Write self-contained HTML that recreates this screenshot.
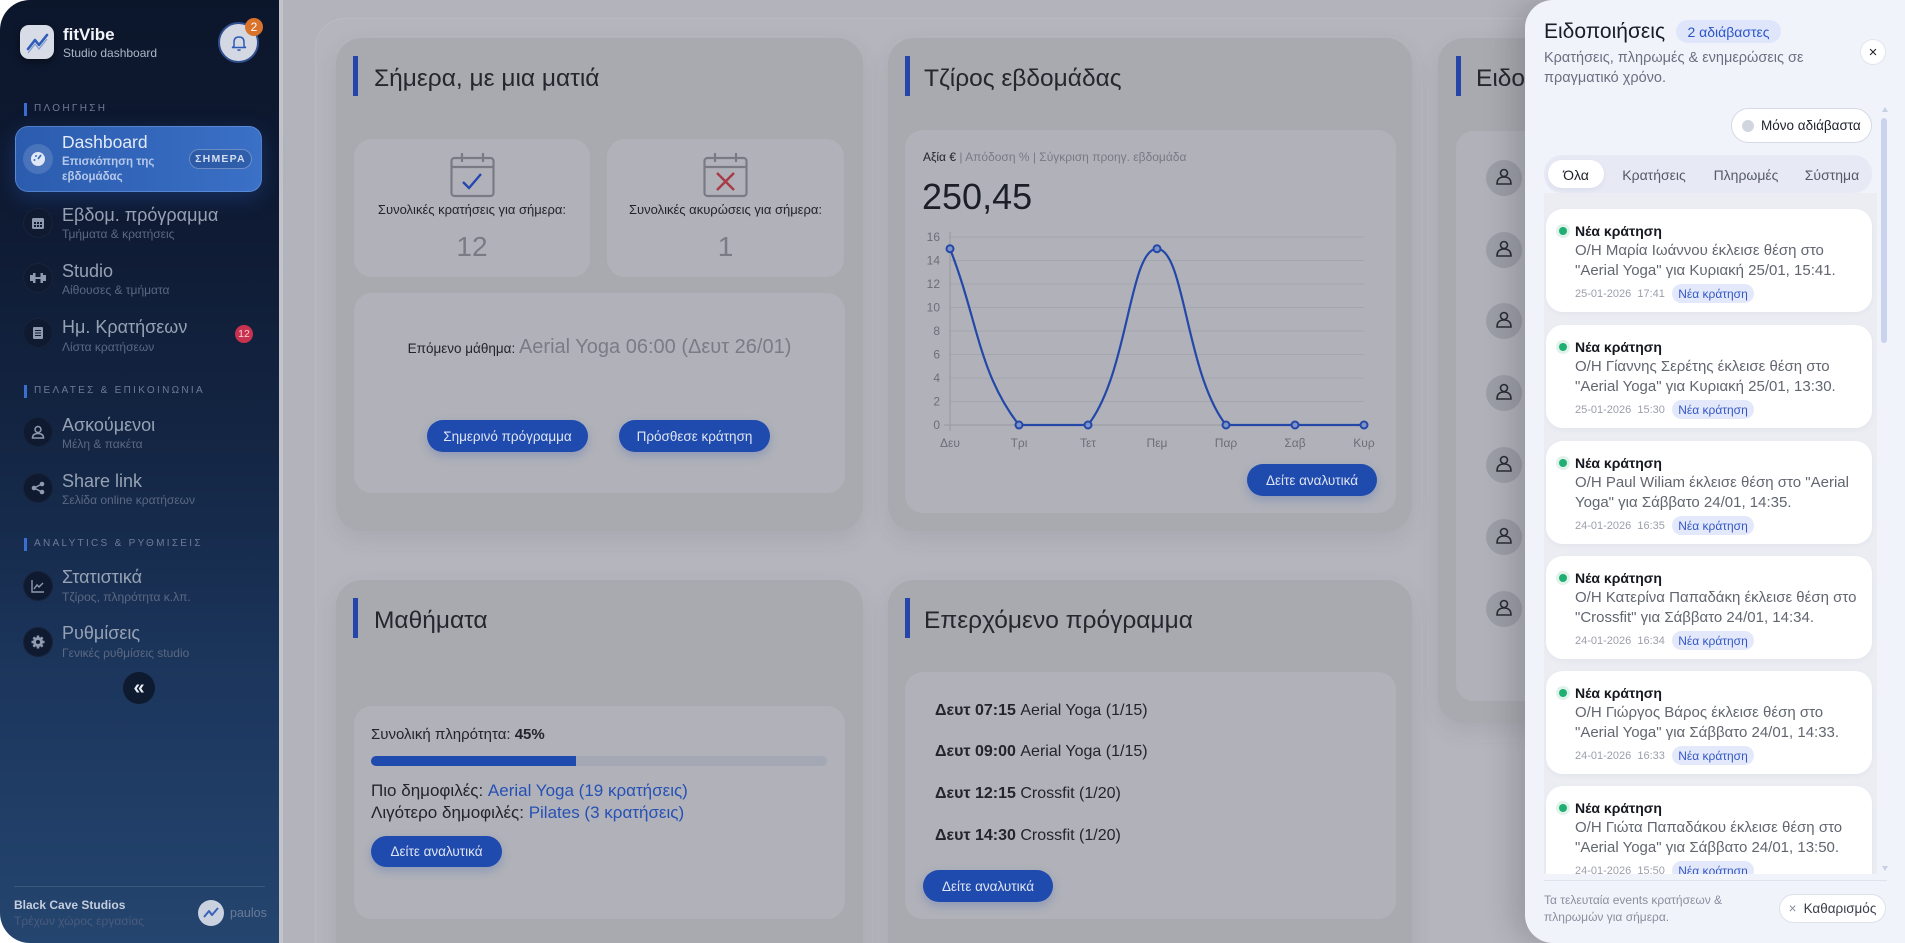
<!DOCTYPE html>
<html><head><meta charset="utf-8">
<style>
*{margin:0;padding:0;box-sizing:border-box}
html,body{width:1905px;height:943px;overflow:hidden;background:#fff;font-family:"Liberation Sans","DejaVu Sans",sans-serif}
#root{position:relative;width:1905px;height:943px;overflow:hidden;background:#fff}
.a{position:absolute;white-space:nowrap;line-height:1}
.card{position:absolute;background:#a9aab0;border-radius:26px;box-shadow:0 8px 22px rgba(60,62,70,0.10)}
.inner{position:absolute;background:#b1b2b9;border-radius:18px}
.acc{position:absolute;width:5px;height:40px;background:#2546a8}
.ttl{position:absolute;font-size:24.5px;color:#25272e;line-height:1;white-space:nowrap}
.btn{position:absolute;background:#1f4aae;color:#dfe5f2;border-radius:17px;font-size:13.5px;display:flex;align-items:center;justify-content:center;box-shadow:0 4px 10px rgba(31,74,174,0.25);white-space:nowrap}
.ic{position:absolute;width:30px;height:30px;border-radius:50%;background:#0f1a31;border:1px solid rgba(255,255,255,0.04);display:flex;align-items:center;justify-content:center}
.it{position:absolute;font-size:18px;color:#97a1b4;line-height:1;white-space:nowrap}
.is{position:absolute;font-size:12px;color:#5b6883;line-height:1;white-space:nowrap}
.sec{position:absolute;font-size:10px;letter-spacing:2.3px;color:#6d7b97;line-height:1;white-space:nowrap}
.secb{position:absolute;width:3px;height:13px;background:#3a6ed0}
.nc{position:absolute;left:2px;width:326px;height:103px;background:#fff;border-radius:17px;box-shadow:0 2px 6px rgba(30,40,80,0.04)}
.nc .dot{position:absolute;left:10px;top:15px;width:14px;height:14px;border-radius:50%;background:#e0f2ea}
.nc .dot:after{content:"";position:absolute;left:3px;top:3px;width:8px;height:8px;border-radius:50%;background:#1faf73}
.nc .t{position:absolute;left:29px;top:15px;font-size:14px;font-weight:bold;color:#16181f;line-height:1;white-space:nowrap}
.nc .b{position:absolute;left:29px;top:32px;font-size:15px;color:#62666f;line-height:20px;white-space:nowrap}
.nc .d{position:absolute;left:29px;top:80px;font-size:11px;color:#9c9fab;line-height:1;white-space:nowrap}
.nc .p{position:absolute;left:126px;top:75px;width:82px;height:19px;border-radius:10px;background:#e3e9fa;color:#3457c5;font-size:12px;display:flex;align-items:center;justify-content:center;white-space:nowrap}
</style></head><body><div id="root">

<!-- main dimmed background -->
<div class="a" style="left:279px;top:0;width:1626px;height:943px;background:#b3b4bb"></div>
<div class="a" style="left:279px;top:0;width:4px;height:943px;background:#c3c4ca"></div>
<div class="a" style="left:315px;top:18px;width:1300px;height:960px;background:#b5b6bd;border-radius:30px;border:1px solid #babbc2"></div>

<!-- Card 1 -->
<div class="card" style="left:336px;top:38px;width:527px;height:493px"></div>
<div class="acc" style="left:353px;top:56px"></div>
<div class="ttl" style="left:374px;top:67px">Σήμερα, με μια ματιά</div>
<div class="inner" style="left:354px;top:139px;width:236px;height:138px"></div>
<div class="inner" style="left:607px;top:139px;width:237px;height:138px"></div>
<svg class="a" style="left:450px;top:152px" width="46" height="46" viewBox="0 0 46 46">
<rect x="1.5" y="6" width="42" height="38" rx="3" fill="none" stroke="#797b84" stroke-width="2.2"/>
<line x1="1.5" y1="15" x2="43.5" y2="15" stroke="#797b84" stroke-width="2.2"/>
<line x1="12" y1="1" x2="12" y2="10" stroke="#797b84" stroke-width="2.2"/>
<line x1="33" y1="1" x2="33" y2="10" stroke="#797b84" stroke-width="2.2"/>
<polyline points="13,30 19,36 31,22" fill="none" stroke="#2447b0" stroke-width="2.4"/>
</svg>
<svg class="a" style="left:703px;top:152px" width="46" height="46" viewBox="0 0 46 46">
<rect x="1.5" y="6" width="42" height="38" rx="3" fill="none" stroke="#797b84" stroke-width="2.2"/>
<line x1="1.5" y1="15" x2="43.5" y2="15" stroke="#797b84" stroke-width="2.2"/>
<line x1="12" y1="1" x2="12" y2="10" stroke="#797b84" stroke-width="2.2"/>
<line x1="33" y1="1" x2="33" y2="10" stroke="#797b84" stroke-width="2.2"/>
<line x1="14" y1="21" x2="31" y2="38" stroke="#a83a44" stroke-width="2.4"/>
<line x1="31" y1="21" x2="14" y2="38" stroke="#a83a44" stroke-width="2.4"/>
</svg>
<div class="a" style="left:354px;width:236px;top:203px;text-align:center;font-size:13px;color:#23252c">Συνολικές κρατήσεις για σήμερα:</div>
<div class="a" style="left:607px;width:237px;top:203px;text-align:center;font-size:13px;color:#23252c">Συνολικές ακυρώσεις για σήμερα:</div>
<div class="a" style="left:354px;width:236px;top:233px;text-align:center;font-size:28px;color:#7a7c85">12</div>
<div class="a" style="left:607px;width:237px;top:233px;text-align:center;font-size:28px;color:#7a7c85">1</div>
<div class="inner" style="left:354px;top:293px;width:491px;height:200px"></div>
<div class="a" style="left:354px;width:491px;top:337px;text-align:center;color:#23252c;font-size:13.5px"><span>Επόμενο μάθημα:</span> <span style="font-size:20px;color:#7a7c85">Aerial Yoga 06:00 (Δευτ 26/01)</span></div>
<div class="btn" style="left:427px;top:420px;width:161px;height:32px">Σημερινό πρόγραμμα</div>
<div class="btn" style="left:619px;top:420px;width:151px;height:32px">Πρόσθεσε κράτηση</div>

<!-- Card 2 chart -->
<div class="card" style="left:888px;top:38px;width:524px;height:493px"></div>
<div class="acc" style="left:905px;top:56px"></div>
<div class="ttl" style="left:924px;top:67px">Τζίρος εβδομάδας</div>
<div class="inner" style="left:905px;top:130px;width:491px;height:383px"></div>
<div class="a" style="left:923px;top:151px;font-size:12px;color:#787a83"><span style="color:#22242b">Αξία €</span> | Απόδοση % | Σύγκριση προηγ. εβδομάδα</div>
<div class="a" style="left:922px;top:179px;font-size:36px;color:#1c1f28">250,45</div>
<svg class="a" style="left:0;top:0" width="1905" height="943">
<g stroke="#a4a6ae" stroke-width="1">
<line x1="950" y1="237" x2="1364" y2="237"/><line x1="950" y1="260.5" x2="1364" y2="260.5"/>
<line x1="950" y1="284" x2="1364" y2="284"/><line x1="950" y1="307.5" x2="1364" y2="307.5"/>
<line x1="950" y1="331" x2="1364" y2="331"/><line x1="950" y1="354.5" x2="1364" y2="354.5"/>
<line x1="950" y1="378" x2="1364" y2="378"/><line x1="950" y1="401.5" x2="1364" y2="401.5"/>
</g>
<line x1="944" y1="425" x2="1364" y2="425" stroke="#96989f" stroke-width="1"/>
<line x1="950" y1="232" x2="950" y2="431" stroke="#96989f" stroke-width="1"/>
<g font-family="Liberation Sans, sans-serif" font-size="12" fill="#6c6e77" text-anchor="end">
<text x="940" y="241">16</text><text x="940" y="264.5">14</text><text x="940" y="288">12</text>
<text x="940" y="311.5">10</text><text x="940" y="335">8</text><text x="940" y="358.5">6</text>
<text x="940" y="382">4</text><text x="940" y="405.5">2</text><text x="940" y="429">0</text>
</g>
<g font-family="Liberation Sans, sans-serif" font-size="12" fill="#6c6e77" text-anchor="middle">
<text x="950" y="447">Δευ</text><text x="1019" y="447">Τρι</text><text x="1088" y="447">Τετ</text>
<text x="1157" y="447">Πεμ</text><text x="1226" y="447">Παρ</text><text x="1295" y="447">Σαβ</text>
<text x="1364" y="447">Κυρ</text>
</g>
<path d="M950,248.75 C977.6,319.25 978.6,373.4 1019,425 C1033.8,425 1073.2,425 1088,425 C1128.4,373.4 1129.4,248.75 1157,248.75 C1184.6,248.75 1185.6,373.4 1226,425 C1240.8,425 1267.4,425 1295,425 C1322.6,425 1336.4,425 1364,425" fill="none" stroke="#2448a8" stroke-width="2.2"/>
<g fill="#8093c9" stroke="#2448a8" stroke-width="2">
<circle cx="950" cy="248.75" r="3.5"/><circle cx="1019" cy="425" r="3.5"/><circle cx="1088" cy="425" r="3.5"/>
<circle cx="1157" cy="248.75" r="3.5"/><circle cx="1226" cy="425" r="3.5"/><circle cx="1295" cy="425" r="3.5"/>
<circle cx="1364" cy="425" r="3.5"/>
</g>
</svg>
<div class="btn" style="left:1247px;top:464px;width:130px;height:32px">Δείτε αναλυτικά</div>

<!-- Card 3 (behind panel) -->
<div class="card" style="left:1438px;top:38px;width:200px;height:685px"></div>
<div class="acc" style="left:1456px;top:56px"></div>
<div class="ttl" style="left:1476px;top:67px">Ειδοποιήσεις</div>
<div class="inner" style="left:1456px;top:131px;width:160px;height:570px"></div>
<svg class="a" style="left:1486px;top:0" width="40" height="640">
<g fill="#9c9ea6"><circle cx="18" cy="178" r="18"/><circle cx="18" cy="250" r="18"/><circle cx="18" cy="321" r="18"/><circle cx="18" cy="393" r="18"/><circle cx="18" cy="465" r="18"/><circle cx="18" cy="537" r="18"/><circle cx="18" cy="609" r="18"/></g>
<g fill="none" stroke="#2a2c33" stroke-width="1.6">
<circle cx="18" cy="173" r="3.5"/><path d="M11,184 Q11,177 18,177 Q25,177 25,184 Z"/>
<circle cx="18" cy="245" r="3.5"/><path d="M11,256 Q11,249 18,249 Q25,249 25,256 Z"/>
<circle cx="18" cy="316" r="3.5"/><path d="M11,327 Q11,320 18,320 Q25,320 25,327 Z"/>
<circle cx="18" cy="388" r="3.5"/><path d="M11,399 Q11,392 18,392 Q25,392 25,399 Z"/>
<circle cx="18" cy="460" r="3.5"/><path d="M11,471 Q11,464 18,464 Q25,464 25,471 Z"/>
<circle cx="18" cy="532" r="3.5"/><path d="M11,543 Q11,536 18,536 Q25,536 25,543 Z"/>
<circle cx="18" cy="604" r="3.5"/><path d="M11,615 Q11,608 18,608 Q25,608 25,615 Z"/>
</g>
</svg>

<!-- Card 4 -->
<div class="card" style="left:336px;top:580px;width:527px;height:400px"></div>
<div class="acc" style="left:353px;top:598px"></div>
<div class="ttl" style="left:374px;top:609px">Μαθήματα</div>
<div class="inner" style="left:354px;top:706px;width:491px;height:213px"></div>
<div class="a" style="left:371px;top:727px;font-size:15px;color:#23252c">Συνολική πληρότητα: <b>45%</b></div>
<div class="a" style="left:371px;top:756px;width:456px;height:10px;border-radius:5px;background:#a3a8b4"></div>
<div class="a" style="left:371px;top:756px;width:205px;height:10px;border-radius:5px 0 0 5px;background:#1f4aae"></div>
<div class="a" style="left:371px;top:782px;font-size:17px;color:#23252c">Πιο δημοφιλές: <span style="color:#2550b5">Aerial Yoga (19 κρατήσεις)</span></div>
<div class="a" style="left:371px;top:804px;font-size:17px;color:#23252c">Λιγότερο δημοφιλές: <span style="color:#2550b5">Pilates (3 κρατήσεις)</span></div>
<div class="btn" style="left:371px;top:836px;width:131px;height:31px">Δείτε αναλυτικά</div>

<!-- Card 5 -->
<div class="card" style="left:888px;top:580px;width:524px;height:400px"></div>
<div class="acc" style="left:905px;top:598px"></div>
<div class="ttl" style="left:924px;top:609px">Επερχόμενο πρόγραμμα</div>
<div class="inner" style="left:905px;top:672px;width:491px;height:247px"></div>
<div class="a" style="left:935px;top:703px;font-size:16px;color:#23252c"><b>Δευτ 07:15</b> Aerial Yoga (1/15)</div>
<div class="a" style="left:935px;top:744px;font-size:16px;color:#23252c"><b>Δευτ 09:00</b> Aerial Yoga (1/15)</div>
<div class="a" style="left:935px;top:786px;font-size:16px;color:#23252c"><b>Δευτ 12:15</b> Crossfit (1/20)</div>
<div class="a" style="left:935px;top:828px;font-size:16px;color:#23252c"><b>Δευτ 14:30</b> Crossfit (1/20)</div>
<div class="btn" style="left:923px;top:870px;width:130px;height:32px">Δείτε αναλυτικά</div>

<!-- Sidebar -->
<div class="a" style="left:0;top:0;width:279px;height:943px;border-radius:30px 0 0 30px;background:linear-gradient(180deg,#0c162b 0%,#0f1b34 25%,#142746 50%,#1c365d 72%,#24456f 100%)"></div>
<div class="a" style="left:20px;top:25px;width:34px;height:34px;border-radius:9px;background:#d8dce6;box-shadow:0 3px 8px rgba(0,0,0,0.4)"></div>
<svg class="a" style="left:20px;top:25px" width="34" height="34"><polyline points="8,24 15,15 19,20 27,10" fill="none" stroke="#2f5bb8" stroke-width="2.6" stroke-linejoin="round" stroke-linecap="round"/><polyline points="8,28 15,19 19,24 27,14" fill="none" stroke="#2f5bb8" stroke-width="1.2" opacity="0.5"/></svg>
<div class="a" style="left:63px;top:26px;font-size:17px;font-weight:bold;color:#f2f4f8">fitVibe</div>
<div class="a" style="left:63px;top:47px;font-size:12px;color:#aeb6c6">Studio dashboard</div>
<div class="a" style="left:218px;top:22px;width:41px;height:41px;border-radius:50%;background:#d3d8e3;border:2px solid #2f4f8f"></div>
<svg class="a" style="left:229px;top:33px" width="20" height="20"><path d="M5,13 L5,9 Q5,4 10,4 Q15,4 15,9 L15,13 L16.5,14.5 L3.5,14.5 Z" fill="none" stroke="#2f5bb8" stroke-width="1.5" stroke-linejoin="round"/><path d="M8.5,16.5 Q10,18 11.5,16.5" fill="none" stroke="#2f5bb8" stroke-width="1.4"/></svg>
<div class="a" style="left:245px;top:18px;width:18px;height:18px;border-radius:50%;background:#d9722b;color:#fff;font-size:12px;display:flex;align-items:center;justify-content:center">2</div>

<div class="secb" style="left:24px;top:103px"></div>
<div class="sec" style="left:34px;top:104px">ΠΛΟΗΓΗΣΗ</div>

<div class="a" style="left:15px;top:126px;width:247px;height:66px;border-radius:13px;background:linear-gradient(90deg,#2b5cae,#3a70c6);border:1px solid rgba(150,190,255,0.35);box-shadow:0 6px 22px rgba(40,90,180,0.35)"></div>
<div class="a" style="left:23px;top:144px;width:30px;height:30px;border-radius:50%;background:rgba(255,255,255,0.14)"></div>
<svg class="a" style="left:29px;top:150px" width="18" height="18"><circle cx="9" cy="9" r="7" fill="#dfe7f7"/><line x1="9" y1="9" x2="12" y2="5" stroke="#3a6bc0" stroke-width="1.8"/><circle cx="5.5" cy="10" r="1" fill="#3a6bc0"/><circle cx="7" cy="6" r="1" fill="#3a6bc0"/></svg>
<div class="a" style="left:62px;top:134px;font-size:17.5px;color:#e3eaf7">Dashboard</div>
<div class="a" style="left:62px;top:157px;font-size:11.5px;font-weight:bold;color:#b5c8ea">Επισκόπηση της</div>
<div class="a" style="left:62px;top:172px;font-size:11.5px;font-weight:bold;color:#b5c8ea">εβδομάδας</div>
<div class="a" style="left:189px;top:149px;width:63px;height:20px;border-radius:10px;border:1px solid rgba(255,255,255,0.3);background:rgba(10,30,70,0.2);color:#d5def0;font-size:10.5px;font-weight:bold;letter-spacing:1.2px;display:flex;align-items:center;justify-content:center">ΣΗΜΕΡΑ</div>

<div class="ic" style="left:23px;top:208px"><svg width="14" height="14"><rect x="1" y="2" width="12" height="11" rx="1.5" fill="#8f9aae"/><g fill="#0f1a31"><rect x="3" y="6" width="2" height="2"/><rect x="6" y="6" width="2" height="2"/><rect x="9" y="6" width="2" height="2"/><rect x="3" y="9" width="2" height="2"/><rect x="6" y="9" width="2" height="2"/><rect x="9" y="9" width="2" height="2"/></g></svg></div>
<div class="it" style="left:62px;top:206px">Εβδομ. πρόγραμμα</div>
<div class="is" style="left:62px;top:228px">Τμήματα &amp; κρατήσεις</div>

<div class="ic" style="left:23px;top:263px"><svg width="16" height="14"><rect x="0" y="4" width="3" height="6" fill="#8f9aae"/><rect x="3" y="2" width="2.5" height="10" fill="#8f9aae"/><rect x="5.5" y="6" width="5" height="2" fill="#8f9aae"/><rect x="10.5" y="2" width="2.5" height="10" fill="#8f9aae"/><rect x="13" y="4" width="3" height="6" fill="#8f9aae"/></svg></div>
<div class="it" style="left:62px;top:262px">Studio</div>
<div class="is" style="left:62px;top:284px">Αίθουσες &amp; τμήματα</div>

<div class="ic" style="left:23px;top:318px"><svg width="12" height="14"><rect x="1" y="1" width="10" height="12" rx="1" fill="#8f9aae"/><g stroke="#0f1a31" stroke-width="1"><line x1="3" y1="4.5" x2="9" y2="4.5"/><line x1="3" y1="7" x2="9" y2="7"/><line x1="3" y1="9.5" x2="9" y2="9.5"/></g></svg></div>
<div class="it" style="left:62px;top:318px">Ημ. Κρατήσεων</div>
<div class="is" style="left:62px;top:341px">Λίστα κρατήσεων</div>
<div class="a" style="left:235px;top:325px;width:18px;height:18px;border-radius:50%;background:#c8324f;color:#f2d5dc;font-size:10.5px;display:flex;align-items:center;justify-content:center">12</div>

<div class="secb" style="left:24px;top:385px"></div>
<div class="sec" style="left:34px;top:386px">ΠΕΛΑΤΕΣ &amp; ΕΠΙΚΟΙΝΩΝΙΑ</div>

<div class="ic" style="left:23px;top:417px"><svg width="14" height="14" fill="none" stroke="#8f9aae" stroke-width="1.5"><circle cx="7" cy="4.5" r="3"/><path d="M1.5,13 Q1.5,8.5 7,8.5 Q12.5,8.5 12.5,13 Z"/></svg></div>
<div class="it" style="left:62px;top:416px">Ασκούμενοι</div>
<div class="is" style="left:62px;top:438px">Μέλη &amp; πακέτα</div>

<div class="ic" style="left:23px;top:473px"><svg width="14" height="14" fill="#8f9aae"><circle cx="11" cy="3" r="2.3"/><circle cx="3" cy="7" r="2.3"/><circle cx="11" cy="11" r="2.3"/><path d="M3,7 L11,3 M3,7 L11,11" stroke="#8f9aae" stroke-width="1.5"/></svg></div>
<div class="it" style="left:62px;top:472px">Share link</div>
<div class="is" style="left:62px;top:494px">Σελίδα online κρατήσεων</div>

<div class="secb" style="left:24px;top:538px"></div>
<div class="sec" style="left:34px;top:539px">ANALYTICS &amp; ΡΥΘΜΙΣΕΙΣ</div>

<div class="ic" style="left:23px;top:571px"><svg width="14" height="14" fill="none" stroke="#8f9aae" stroke-width="1.4"><polyline points="1,1 1,13 13,13"/><polyline points="3,10 6,6 8,8 12,4"/></svg></div>
<div class="it" style="left:62px;top:568px">Στατιστικά</div>
<div class="is" style="left:62px;top:591px">Τζίρος, πληρότητα κ.λπ.</div>

<div class="ic" style="left:23px;top:627px"><svg width="14" height="14"><circle cx="7" cy="7" r="5" fill="#8f9aae"/><g stroke="#8f9aae" stroke-width="2.5"><line x1="7" y1="0.5" x2="7" y2="13.5"/><line x1="0.5" y1="7" x2="13.5" y2="7"/><line x1="2.4" y1="2.4" x2="11.6" y2="11.6"/><line x1="11.6" y1="2.4" x2="2.4" y2="11.6"/></g><circle cx="7" cy="7" r="2" fill="#0f1a31"/></svg></div>
<div class="it" style="left:62px;top:624px">Ρυθμίσεις</div>
<div class="is" style="left:62px;top:647px">Γενικές ρυθμίσεις studio</div>

<div class="a" style="left:123px;top:672px;width:32px;height:32px;border-radius:50%;background:#0e1a30;color:#e8edf6;font-size:20px;font-weight:bold;display:flex;align-items:center;justify-content:center;line-height:1">«</div>

<div class="a" style="left:14px;top:886px;width:251px;height:1px;background:rgba(255,255,255,0.12)"></div>
<div class="a" style="left:14px;top:899px;font-size:12px;font-weight:bold;color:#c6cedd">Black Cave Studios</div>
<div class="a" style="left:14px;top:915px;font-size:12px;color:#4a5b7b">Τρέχων χώρος εργασίας</div>
<div class="a" style="left:198px;top:900px;width:26px;height:26px;border-radius:50%;background:#cbd2df"></div>
<svg class="a" style="left:198px;top:900px" width="26" height="26"><polyline points="6,17 11,11 14,15 20,8" fill="none" stroke="#3a62b8" stroke-width="2" stroke-linejoin="round"/></svg>
<div class="a" style="left:230px;top:907px;font-size:12.5px;color:#6a7a98">paulos</div>

<!-- Notification panel -->
<div class="a" style="left:1525px;top:0;width:380px;height:943px;background:#f1f3fb;border-radius:28px 0 0 28px;box-shadow:-12px 0 30px rgba(20,22,35,0.18)"></div>
<div class="a" style="left:1544px;top:21px;font-size:21px;color:#1a1d26">Ειδοποιήσεις</div>
<div class="a" style="left:1676px;top:20px;width:105px;height:23px;border-radius:12px;background:#dfe6fb;color:#2c55c8;font-size:14px;display:flex;align-items:center;justify-content:center">2 αδιάβαστες</div>
<div class="a" style="left:1544px;top:51px;font-size:14.5px;color:#6b7080">Κρατήσεις, πληρωμές &amp; ενημερώσεις σε</div>
<div class="a" style="left:1544px;top:71px;font-size:14.5px;color:#6b7080">πραγματικό χρόνο.</div>
<div class="a" style="left:1860px;top:39px;width:26px;height:26px;border-radius:50%;background:#fff;border:1px solid #e2e5ee;color:#222;font-size:15px;display:flex;align-items:center;justify-content:center">×</div>

<div class="a" style="left:1731px;top:108px;width:141px;height:35px;border-radius:18px;background:#fff;border:1px solid #d6dae6"></div>
<div class="a" style="left:1742px;top:120px;width:12px;height:12px;border-radius:50%;background:#d0d5df"></div>
<div class="a" style="left:1761px;top:119px;font-size:13.5px;color:#1f222b">Μόνο αδιάβαστα</div>

<div class="a" style="left:1882px;top:107px;width:0;height:0;border-left:3px solid transparent;border-right:3px solid transparent;border-bottom:5px solid #c8d0e6"></div>
<div class="a" style="left:1881px;top:118px;width:6px;height:225px;border-radius:3px;background:#c9d3ee"></div>
<div class="a" style="left:1882px;top:866px;width:0;height:0;border-left:3px solid transparent;border-right:3px solid transparent;border-top:5px solid #c8d0e6"></div>

<div class="a" style="left:1544px;top:193px;width:333px;height:681px;background:#ebedf3"></div>
<div class="a" style="left:1544px;top:155px;width:328px;height:38px;border-radius:18px;background:#e7eaf5"></div>
<div class="a" style="left:1548px;top:160px;width:56px;height:28px;border-radius:14px;background:#fff;box-shadow:0 2px 6px rgba(30,40,80,0.06)"></div>
<div class="a" style="left:1548px;width:56px;top:168px;text-align:center;font-size:14px;color:#1c1f27">Όλα</div>
<div class="a" style="left:1614px;width:80px;top:168px;text-align:center;font-size:14px;color:#555a68">Κρατήσεις</div>
<div class="a" style="left:1706px;width:80px;top:168px;text-align:center;font-size:14px;color:#555a68">Πληρωμές</div>
<div class="a" style="left:1792px;width:80px;top:168px;text-align:center;font-size:14px;color:#555a68">Σύστημα</div>

<div class="a" style="left:1544px;top:195px;width:333px;height:679px;overflow:hidden">
<div class="nc" style="top:14px"><div class="dot"></div><div class="t">Νέα κράτηση</div><div class="b">Ο/Η Μαρία Ιωάννου έκλεισε θέση στο<br>"Aerial Yoga" για Κυριακή 25/01, 15:41.</div><div class="d">25-01-2026&nbsp; 17:41</div><div class="p">Νέα κράτηση</div></div>
<div class="nc" style="top:130px"><div class="dot"></div><div class="t">Νέα κράτηση</div><div class="b">Ο/Η Γίαννης Σερέτης έκλεισε θέση στο<br>"Aerial Yoga" για Κυριακή 25/01, 13:30.</div><div class="d">25-01-2026&nbsp; 15:30</div><div class="p">Νέα κράτηση</div></div>
<div class="nc" style="top:246px"><div class="dot"></div><div class="t">Νέα κράτηση</div><div class="b">Ο/Η Paul Wiliam έκλεισε θέση στο "Aerial<br>Yoga" για Σάββατο 24/01, 14:35.</div><div class="d">24-01-2026&nbsp; 16:35</div><div class="p">Νέα κράτηση</div></div>
<div class="nc" style="top:361px"><div class="dot"></div><div class="t">Νέα κράτηση</div><div class="b">Ο/Η Κατερίνα Παπαδάκη έκλεισε θέση στο<br>"Crossfit" για Σάββατο 24/01, 14:34.</div><div class="d">24-01-2026&nbsp; 16:34</div><div class="p">Νέα κράτηση</div></div>
<div class="nc" style="top:476px"><div class="dot"></div><div class="t">Νέα κράτηση</div><div class="b">Ο/Η Γιώργος Βάρος έκλεισε θέση στο<br>"Aerial Yoga" για Σάββατο 24/01, 14:33.</div><div class="d">24-01-2026&nbsp; 16:33</div><div class="p">Νέα κράτηση</div></div>
<div class="nc" style="top:591px"><div class="dot"></div><div class="t">Νέα κράτηση</div><div class="b">Ο/Η Γιώτα Παπαδάκου έκλεισε θέση στο<br>"Aerial Yoga" για Σάββατο 24/01, 13:50.</div><div class="d">24-01-2026&nbsp; 15:50</div><div class="p">Νέα κράτηση</div></div>
</div>

<div class="a" style="left:1544px;top:880px;width:343px;height:1px;background:#dfe2ea"></div>
<div class="a" style="left:1544px;top:894px;font-size:12px;color:#8a8f9c">Τα τελευταία events κρατήσεων &amp;</div>
<div class="a" style="left:1544px;top:911px;font-size:12px;color:#8a8f9c">πληρωμών για σήμερα.</div>
<div class="a" style="left:1779px;top:894px;width:107px;height:29px;border-radius:15px;background:#fff;border:1px solid #dde1ea;font-size:13.5px;color:#3a3e4a;display:flex;align-items:center;justify-content:center"><span style="color:#8a8f9c;margin-right:7px">×</span>Καθαρισμός</div>

</div></body></html>
